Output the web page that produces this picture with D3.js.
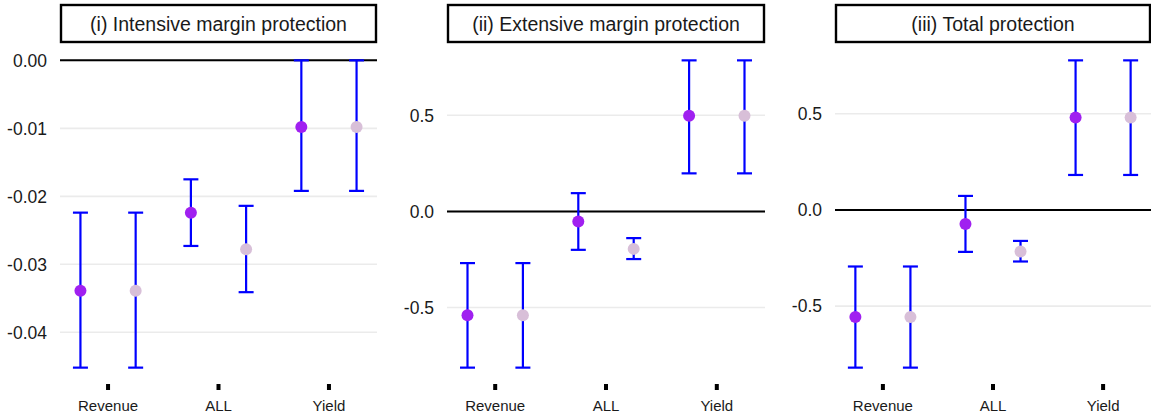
<!DOCTYPE html>
<html>
<head>
<meta charset="utf-8">
<script src="https://cdn.jsdelivr.net/npm/d3@7"></script>
<style>
  html, body { margin: 0; padding: 0; background: #ffffff; }
  svg { display: block; font-family: "Liberation Sans", Arial, sans-serif; }
</style>
</head>
<body>
<svg id="chart" width="1151" height="417"></svg>
<script>
// ---- data ----
const categories = ["Revenue", "ALL", "Yield"];
const panelTitles = ["(i) Intensive margin protection", "(ii) Extensive margin protection", "(iii) Total protection"];

// Panel (i) intensive margin
const intensiveEstA = [-0.0339, -0.0224, -0.0098];
const intensiveLoA  = [-0.0452, -0.0273, -0.0192];
const intensiveHiA  = [-0.0224, -0.0175,  0.0000];
const intensiveEstB = [-0.0339, -0.0278, -0.0098];
const intensiveLoB  = [-0.0452, -0.0341, -0.0192];
const intensiveHiB  = [-0.0224, -0.0214,  0.0000];
const intensiveTicks = [0, -0.01, -0.02, -0.03, -0.04];

// Panel (ii) extensive margin
const extensiveEstA = [-0.541, -0.053, 0.498];
const extensiveLoA  = [-0.813, -0.200, 0.198];
const extensiveHiA  = [-0.269,  0.095, 0.786];
const extensiveEstB = [-0.541, -0.195, 0.498];
const extensiveLoB  = [-0.813, -0.248, 0.198];
const extensiveHiB  = [-0.269, -0.139, 0.786];
const extensiveTicks = [-0.5, 0, 0.5];

// Panel (iii) total
const totalEstA = [-0.557, -0.073, 0.481];
const totalLoA  = [-0.820, -0.218, 0.182];
const totalHiA  = [-0.294,  0.073, 0.778];
const totalEstB = [-0.557, -0.216, 0.481];
const totalLoB  = [-0.820, -0.268, 0.182];
const totalHiB  = [-0.294, -0.161, 0.778];
const totalTicks = [-0.5, 0, 0.5];

const seriesColors = ["#a020f0", "#d8bfd8"];

// ---- build panel tables ----
function rows(est, lo, hi, s) {
  return categories.map((c, i) => ({ cat: c, series: s, est: est[i], lo: lo[i], hi: hi[i] }));
}
const panels = [
  { title: panelTitles[0], ticks: intensiveTicks, fmt: ".2f",
    rows: rows(intensiveEstA, intensiveLoA, intensiveHiA, 0).concat(rows(intensiveEstB, intensiveLoB, intensiveHiB, 1)) },
  { title: panelTitles[1], ticks: extensiveTicks, fmt: ".1f",
    rows: rows(extensiveEstA, extensiveLoA, extensiveHiA, 0).concat(rows(extensiveEstB, extensiveLoB, extensiveHiB, 1)) },
  { title: panelTitles[2], ticks: totalTicks, fmt: ".1f",
    rows: rows(totalEstA, totalLoA, totalHiA, 0).concat(rows(totalEstB, totalLoB, totalHiB, 1)) }
];

// ---- layout ----
const svg = d3.select("#chart");
const panelX = [[60, 377], [447, 765], [835, 1151]];
const plotTop = 45, plotBottom = 383;
const stripTop = 4, stripBottom = 43;
const locale = d3.formatLocale({ decimal: ".", thousands: ",", grouping: [3], currency: ["", ""], minus: "-" });

panels.forEach((p, pi) => {
  const [x0, x1] = panelX[pi];
  const g = svg.append("g");

  const x = d3.scalePoint().domain(categories).range([x0, x1]).padding(0.435);
  const dodge = x.step() * 0.25;

  const lo = Math.min(0, d3.min(p.rows, d => d.lo));
  const hi = Math.max(0, d3.max(p.rows, d => d.hi));
  const pad = (hi - lo) * 0.05;
  const y = d3.scaleLinear().domain([lo - pad, hi + pad]).range([plotBottom, plotTop]);
  const fmt = locale.format(p.fmt);

  // grid
  g.append("g").selectAll("line").data(p.ticks).join("line")
    .attr("x1", x0).attr("x2", x1)
    .attr("y1", d => y(d)).attr("y2", d => y(d))
    .attr("stroke", "#ebebeb").attr("stroke-width", 1.6);

  // zero line
  g.append("line")
    .attr("x1", x0).attr("x2", x1)
    .attr("y1", y(0)).attr("y2", y(0))
    .attr("stroke", "#000").attr("stroke-width", 2);

  // y tick labels
  g.append("g").selectAll("text").data(p.ticks).join("text")
    .attr("x", x0 - 13).attr("y", d => y(d))
    .attr("dy", "0.36em")
    .attr("text-anchor", "end")
    .attr("font-size", 17.5)
    .attr("fill", "#1a1a1a")
    .text(d => fmt(d));

  // x ticks
  g.append("g").selectAll("rect").data(categories).join("rect")
    .attr("x", d => x(d) - 2).attr("y", plotBottom + 1)
    .attr("width", 4).attr("height", 6)
    .attr("fill", "#000");

  g.append("g").selectAll("text").data(categories).join("text")
    .attr("x", d => x(d)).attr("y", 411)
    .attr("text-anchor", "middle")
    .attr("font-size", 15)
    .attr("fill", "#1a1a1a")
    .text(d => d);

  // error bars
  const cx = d => x(d.cat) + (d.series === 0 ? -dodge : dodge);
  const eb = g.append("g").attr("stroke", "#0000ff").attr("stroke-width", 2.2);
  eb.selectAll("line.v").data(p.rows).join("line").attr("class", "v")
    .attr("x1", cx).attr("x2", cx).attr("y1", d => y(d.lo)).attr("y2", d => y(d.hi));
  eb.selectAll("line.t").data(p.rows).join("line").attr("class", "t")
    .attr("x1", d => cx(d) - 7.5).attr("x2", d => cx(d) + 7.5).attr("y1", d => y(d.hi)).attr("y2", d => y(d.hi));
  eb.selectAll("line.b").data(p.rows).join("line").attr("class", "b")
    .attr("x1", d => cx(d) - 7.5).attr("x2", d => cx(d) + 7.5).attr("y1", d => y(d.lo)).attr("y2", d => y(d.lo));

  // points
  g.append("g").selectAll("circle").data(p.rows).join("circle")
    .attr("cx", cx).attr("cy", d => y(d.est)).attr("r", 6)
    .attr("fill", d => seriesColors[d.series]);

  // strip
  g.append("rect")
    .attr("x", x0 + 1).attr("y", stripTop + 1)
    .attr("width", x1 - x0 - 2).attr("height", stripBottom - stripTop - 2)
    .attr("fill", "#fff").attr("stroke", "#000").attr("stroke-width", 2.4);
  g.append("text")
    .attr("x", (x0 + x1) / 2).attr("y", (stripTop + stripBottom) / 2)
    .attr("dy", "0.36em")
    .attr("text-anchor", "middle")
    .attr("font-size", 19.5)
    .attr("fill", "#1a1a1a")
    .text(p.title);
});
</script>
</body>
</html>
